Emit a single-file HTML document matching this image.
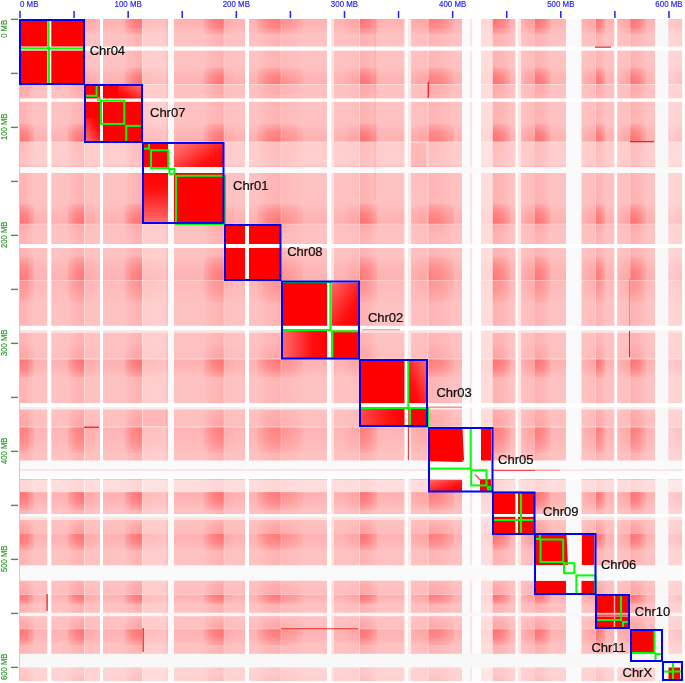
<!DOCTYPE html>
<html><head><meta charset="utf-8"><style>
html,body{margin:0;padding:0;background:#fff;}
text{-webkit-font-smoothing:antialiased;}
svg{will-change:transform;}
svg{display:block;}
.lab{font-family:"Liberation Sans",sans-serif;font-size:13px;fill:#0a0a0a;stroke:#0a0a0a;stroke-width:0.2px;}
.ax{font-family:"Liberation Sans",sans-serif;font-size:7.9px;fill:#1a1aff;stroke:#1a1aff;stroke-width:0.15px;}
.ay{font-family:"Liberation Sans",sans-serif;font-size:7.6px;fill:#2a962a;stroke:#2a962a;stroke-width:0.15px;}
</style></head><body>
<svg width="685" height="683" viewBox="0 0 685 683">
<defs><linearGradient id="hl" x1="0" y1="0" x2="1" y2="0"><stop offset="0" stop-color="#ff0000" stop-opacity="1"/><stop offset="0.5" stop-color="#ff0000" stop-opacity="0.8"/><stop offset="1" stop-color="#ff0000" stop-opacity="0.25"/></linearGradient><linearGradient id="hr" x1="1" y1="0" x2="0" y2="0"><stop offset="0" stop-color="#ff0000" stop-opacity="1"/><stop offset="0.5" stop-color="#ff0000" stop-opacity="0.8"/><stop offset="1" stop-color="#ff0000" stop-opacity="0.25"/></linearGradient><linearGradient id="vt" x1="0" y1="0" x2="0" y2="1"><stop offset="0" stop-color="#fff"/><stop offset="0.5" stop-color="#cccccc"/><stop offset="1" stop-color="#404040"/></linearGradient><linearGradient id="vb" x1="0" y1="1" x2="0" y2="0"><stop offset="0" stop-color="#fff"/><stop offset="0.5" stop-color="#cccccc"/><stop offset="1" stop-color="#404040"/></linearGradient><mask id="mt" maskContentUnits="objectBoundingBox"><rect width="1" height="1" fill="url(#vt)"/></mask><mask id="mb" maskContentUnits="objectBoundingBox"><rect width="1" height="1" fill="url(#vb)"/></mask><linearGradient id="bgl" x1="0" y1="0" x2="1" y2="0"><stop offset="0" stop-color="#ff0000" stop-opacity="1"/><stop offset="0.6" stop-color="#ff0000" stop-opacity="0.6"/><stop offset="1" stop-color="#ff0000" stop-opacity="0"/></linearGradient><linearGradient id="bgr" x1="1" y1="0" x2="0" y2="0"><stop offset="0" stop-color="#ff0000" stop-opacity="1"/><stop offset="0.6" stop-color="#ff0000" stop-opacity="0.6"/><stop offset="1" stop-color="#ff0000" stop-opacity="0"/></linearGradient><linearGradient id="bgt" x1="0" y1="0" x2="0" y2="1"><stop offset="0" stop-color="#ff0000" stop-opacity="1"/><stop offset="0.6" stop-color="#ff0000" stop-opacity="0.6"/><stop offset="1" stop-color="#ff0000" stop-opacity="0"/></linearGradient><linearGradient id="bgb" x1="0" y1="1" x2="0" y2="0"><stop offset="0" stop-color="#ff0000" stop-opacity="1"/><stop offset="0.6" stop-color="#ff0000" stop-opacity="0.6"/><stop offset="1" stop-color="#ff0000" stop-opacity="0"/></linearGradient><linearGradient id="tll" x1="1" y1="0" x2="0" y2="1"><stop offset="0" stop-color="#ff0000"/><stop offset="0.35" stop-color="#ff1010"/><stop offset="1" stop-color="#ff6a6a"/></linearGradient><linearGradient id="tur" x1="0" y1="1" x2="1" y2="0"><stop offset="0" stop-color="#ff0000"/><stop offset="0.35" stop-color="#ff1010"/><stop offset="1" stop-color="#ff6a6a"/></linearGradient><linearGradient id="tx1" x1="1" y1="1" x2="0" y2="0.3"><stop offset="0" stop-color="#ff0000"/><stop offset="0.35" stop-color="#ff1010"/><stop offset="1" stop-color="#ff6a6a"/></linearGradient><linearGradient id="tx2" x1="0.5" y1="0" x2="0.5" y2="1"><stop offset="0" stop-color="#ff0000"/><stop offset="0.35" stop-color="#ff1010"/><stop offset="1" stop-color="#ff6a6a"/></linearGradient><linearGradient id="tx3" x1="1" y1="1" x2="0" y2="0"><stop offset="0" stop-color="#ff0000"/><stop offset="0.35" stop-color="#ff1010"/><stop offset="1" stop-color="#ff6a6a"/></linearGradient><linearGradient id="tx4" x1="1" y1="0.5" x2="0" y2="0.5"><stop offset="0" stop-color="#ff0000"/><stop offset="0.35" stop-color="#ff1010"/><stop offset="1" stop-color="#ff6a6a"/></linearGradient><linearGradient id="tx5" x1="1" y1="0.5" x2="0" y2="0.5"><stop offset="0" stop-color="#ff0000"/><stop offset="0.35" stop-color="#ff1010"/><stop offset="1" stop-color="#ff4a4a"/></linearGradient><linearGradient id="tx6" x1="1" y1="1" x2="0" y2="0"><stop offset="0" stop-color="#ff0000"/><stop offset="0.35" stop-color="#ff1010"/><stop offset="1" stop-color="#ff6a6a"/></linearGradient></defs>
<rect x="19" y="19" width="663" height="662" fill="rgb(255,194,194)"/>
<rect x="19" y="19" width="15" height="662" fill="url(#bgl)" fill-opacity="0.090"/>
<rect x="19" y="19" width="663" height="15" fill="url(#bgt)" fill-opacity="0.090"/>
<rect x="67.5" y="19" width="17" height="662" fill="url(#bgr)" fill-opacity="0.090"/>
<rect x="19" y="67.5" width="663" height="17" fill="url(#bgb)" fill-opacity="0.090"/>
<rect x="84.5" y="19" width="12" height="662" fill="url(#bgl)" fill-opacity="0.013"/>
<rect x="19" y="84.5" width="663" height="12" fill="url(#bgt)" fill-opacity="0.013"/>
<rect x="124.5" y="19" width="18" height="662" fill="url(#bgr)" fill-opacity="0.090"/>
<rect x="19" y="124" width="663" height="18" fill="url(#bgb)" fill-opacity="0.090"/>
<rect x="142.5" y="19" width="20" height="662" fill="url(#bgl)" fill-opacity="0.009"/>
<rect x="19" y="142" width="663" height="20" fill="url(#bgt)" fill-opacity="0.009"/>
<rect x="204" y="19" width="20" height="662" fill="url(#bgr)" fill-opacity="0.090"/>
<rect x="19" y="204" width="663" height="20" fill="url(#bgb)" fill-opacity="0.090"/>
<rect x="224" y="19" width="10" height="662" fill="url(#bgl)" fill-opacity="0.013"/>
<rect x="19" y="224" width="663" height="10" fill="url(#bgt)" fill-opacity="0.013"/>
<rect x="257" y="19" width="24" height="662" fill="url(#bgr)" fill-opacity="0.081"/>
<rect x="19" y="256.5" width="663" height="24" fill="url(#bgb)" fill-opacity="0.081"/>
<rect x="281" y="19" width="22" height="662" fill="url(#bgl)" fill-opacity="0.045"/>
<rect x="19" y="280.5" width="663" height="22" fill="url(#bgt)" fill-opacity="0.045"/>
<rect x="344.5" y="19" width="15" height="662" fill="url(#bgr)" fill-opacity="0.018"/>
<rect x="19" y="344" width="663" height="15" fill="url(#bgb)" fill-opacity="0.018"/>
<rect x="359.5" y="19" width="18" height="662" fill="url(#bgl)" fill-opacity="0.090"/>
<rect x="19" y="359" width="663" height="18" fill="url(#bgt)" fill-opacity="0.090"/>
<rect x="410" y="19" width="18" height="662" fill="url(#bgr)" fill-opacity="0.018"/>
<rect x="19" y="409" width="663" height="18" fill="url(#bgb)" fill-opacity="0.018"/>
<rect x="428" y="19" width="26" height="662" fill="url(#bgl)" fill-opacity="0.076"/>
<rect x="19" y="427" width="663" height="26" fill="url(#bgt)" fill-opacity="0.076"/>
<rect x="492.5" y="19" width="18" height="662" fill="url(#bgl)" fill-opacity="0.090"/>
<rect x="19" y="492" width="663" height="18" fill="url(#bgt)" fill-opacity="0.090"/>
<rect x="522.5" y="19" width="12" height="662" fill="url(#bgr)" fill-opacity="0.027"/>
<rect x="19" y="522" width="663" height="12" fill="url(#bgb)" fill-opacity="0.027"/>
<rect x="534.5" y="19" width="16" height="662" fill="url(#bgl)" fill-opacity="0.090"/>
<rect x="19" y="534" width="663" height="16" fill="url(#bgt)" fill-opacity="0.090"/>
<rect x="583.5" y="19" width="12" height="662" fill="url(#bgr)" fill-opacity="0.018"/>
<rect x="19" y="582.5" width="663" height="12" fill="url(#bgb)" fill-opacity="0.018"/>
<rect x="595.5" y="19" width="10" height="662" fill="url(#bgl)" fill-opacity="0.090"/>
<rect x="19" y="594.5" width="663" height="10" fill="url(#bgt)" fill-opacity="0.090"/>
<rect x="620" y="19" width="10" height="662" fill="url(#bgr)" fill-opacity="0.018"/>
<rect x="19" y="619" width="663" height="10" fill="url(#bgb)" fill-opacity="0.018"/>
<rect x="630" y="19" width="16" height="662" fill="url(#bgl)" fill-opacity="0.090"/>
<rect x="19" y="629" width="663" height="16" fill="url(#bgt)" fill-opacity="0.090"/>
<rect x="662.5" y="19" width="8" height="662" fill="url(#bgl)" fill-opacity="0.027"/>
<rect x="19" y="661.5" width="663" height="8" fill="url(#bgt)" fill-opacity="0.027"/>
<rect x="674" y="19" width="8" height="662" fill="url(#bgr)" fill-opacity="0.018"/>
<rect x="19" y="673" width="663" height="8" fill="url(#bgb)" fill-opacity="0.018"/>
<rect x="143" y="408" width="24" height="18" fill="#ff0000" fill-opacity="0.12"/>
<rect x="408" y="143" width="18" height="24" fill="#ff0000" fill-opacity="0.12"/>
<rect x="19" y="84.5" width="15" height="12" fill="url(#hl)" mask="url(#mt)" fill-opacity="0.048"/>
<rect x="19" y="124" width="15" height="18" fill="url(#hl)" mask="url(#mb)" fill-opacity="0.320"/>
<rect x="67.5" y="84.5" width="17" height="12" fill="url(#hr)" mask="url(#mt)" fill-opacity="0.048"/>
<rect x="67.5" y="124" width="17" height="18" fill="url(#hr)" mask="url(#mb)" fill-opacity="0.320"/>
<rect x="19" y="142" width="15" height="20" fill="url(#hl)" mask="url(#mt)" fill-opacity="0.032"/>
<rect x="19" y="204" width="15" height="20" fill="url(#hl)" mask="url(#mb)" fill-opacity="0.320"/>
<rect x="67.5" y="142" width="17" height="20" fill="url(#hr)" mask="url(#mt)" fill-opacity="0.032"/>
<rect x="67.5" y="204" width="17" height="20" fill="url(#hr)" mask="url(#mb)" fill-opacity="0.320"/>
<rect x="19" y="224" width="15" height="10" fill="url(#hl)" mask="url(#mt)" fill-opacity="0.048"/>
<rect x="19" y="256.5" width="15" height="24" fill="url(#hl)" mask="url(#mb)" fill-opacity="0.288"/>
<rect x="67.5" y="224" width="17" height="10" fill="url(#hr)" mask="url(#mt)" fill-opacity="0.048"/>
<rect x="67.5" y="256.5" width="17" height="24" fill="url(#hr)" mask="url(#mb)" fill-opacity="0.288"/>
<rect x="19" y="280.5" width="15" height="22" fill="url(#hl)" mask="url(#mt)" fill-opacity="0.160"/>
<rect x="19" y="344" width="15" height="15" fill="url(#hl)" mask="url(#mb)" fill-opacity="0.064"/>
<rect x="67.5" y="280.5" width="17" height="22" fill="url(#hr)" mask="url(#mt)" fill-opacity="0.160"/>
<rect x="67.5" y="344" width="17" height="15" fill="url(#hr)" mask="url(#mb)" fill-opacity="0.064"/>
<rect x="19" y="359" width="15" height="18" fill="url(#hl)" mask="url(#mt)" fill-opacity="0.320"/>
<rect x="19" y="409" width="15" height="18" fill="url(#hl)" mask="url(#mb)" fill-opacity="0.064"/>
<rect x="67.5" y="359" width="17" height="18" fill="url(#hr)" mask="url(#mt)" fill-opacity="0.320"/>
<rect x="67.5" y="409" width="17" height="18" fill="url(#hr)" mask="url(#mb)" fill-opacity="0.064"/>
<rect x="19" y="427" width="15" height="26" fill="url(#hl)" mask="url(#mt)" fill-opacity="0.272"/>
<rect x="67.5" y="427" width="17" height="26" fill="url(#hr)" mask="url(#mt)" fill-opacity="0.272"/>
<rect x="19" y="492" width="15" height="18" fill="url(#hl)" mask="url(#mt)" fill-opacity="0.320"/>
<rect x="19" y="522" width="15" height="12" fill="url(#hl)" mask="url(#mb)" fill-opacity="0.096"/>
<rect x="67.5" y="492" width="17" height="18" fill="url(#hr)" mask="url(#mt)" fill-opacity="0.320"/>
<rect x="67.5" y="522" width="17" height="12" fill="url(#hr)" mask="url(#mb)" fill-opacity="0.096"/>
<rect x="19" y="534" width="15" height="16" fill="url(#hl)" mask="url(#mt)" fill-opacity="0.320"/>
<rect x="19" y="582.5" width="15" height="12" fill="url(#hl)" mask="url(#mb)" fill-opacity="0.064"/>
<rect x="67.5" y="534" width="17" height="16" fill="url(#hr)" mask="url(#mt)" fill-opacity="0.320"/>
<rect x="67.5" y="582.5" width="17" height="12" fill="url(#hr)" mask="url(#mb)" fill-opacity="0.064"/>
<rect x="19" y="594.5" width="15" height="10" fill="url(#hl)" mask="url(#mt)" fill-opacity="0.320"/>
<rect x="19" y="619" width="15" height="10" fill="url(#hl)" mask="url(#mb)" fill-opacity="0.064"/>
<rect x="67.5" y="594.5" width="17" height="10" fill="url(#hr)" mask="url(#mt)" fill-opacity="0.320"/>
<rect x="67.5" y="619" width="17" height="10" fill="url(#hr)" mask="url(#mb)" fill-opacity="0.064"/>
<rect x="19" y="629" width="15" height="16" fill="url(#hl)" mask="url(#mt)" fill-opacity="0.320"/>
<rect x="67.5" y="629" width="17" height="16" fill="url(#hr)" mask="url(#mt)" fill-opacity="0.320"/>
<rect x="19" y="661.5" width="15" height="8" fill="url(#hl)" mask="url(#mt)" fill-opacity="0.096"/>
<rect x="19" y="673" width="15" height="8" fill="url(#hl)" mask="url(#mb)" fill-opacity="0.064"/>
<rect x="67.5" y="661.5" width="17" height="8" fill="url(#hr)" mask="url(#mt)" fill-opacity="0.096"/>
<rect x="67.5" y="673" width="17" height="8" fill="url(#hr)" mask="url(#mb)" fill-opacity="0.064"/>
<rect x="84.5" y="19" width="12" height="15" fill="url(#hl)" mask="url(#mt)" fill-opacity="0.048"/>
<rect x="84.5" y="67.5" width="12" height="17" fill="url(#hl)" mask="url(#mb)" fill-opacity="0.048"/>
<rect x="124.5" y="19" width="18" height="15" fill="url(#hr)" mask="url(#mt)" fill-opacity="0.320"/>
<rect x="124.5" y="67.5" width="18" height="17" fill="url(#hr)" mask="url(#mb)" fill-opacity="0.320"/>
<rect x="84.5" y="204" width="12" height="20" fill="url(#hl)" mask="url(#mb)" fill-opacity="0.048"/>
<rect x="124.5" y="142" width="18" height="20" fill="url(#hr)" mask="url(#mt)" fill-opacity="0.032"/>
<rect x="124.5" y="204" width="18" height="20" fill="url(#hr)" mask="url(#mb)" fill-opacity="0.320"/>
<rect x="84.5" y="256.5" width="12" height="24" fill="url(#hl)" mask="url(#mb)" fill-opacity="0.043"/>
<rect x="124.5" y="224" width="18" height="10" fill="url(#hr)" mask="url(#mt)" fill-opacity="0.048"/>
<rect x="124.5" y="256.5" width="18" height="24" fill="url(#hr)" mask="url(#mb)" fill-opacity="0.288"/>
<rect x="84.5" y="280.5" width="12" height="22" fill="url(#hl)" mask="url(#mt)" fill-opacity="0.024"/>
<rect x="124.5" y="280.5" width="18" height="22" fill="url(#hr)" mask="url(#mt)" fill-opacity="0.160"/>
<rect x="124.5" y="344" width="18" height="15" fill="url(#hr)" mask="url(#mb)" fill-opacity="0.064"/>
<rect x="84.5" y="359" width="12" height="18" fill="url(#hl)" mask="url(#mt)" fill-opacity="0.048"/>
<rect x="124.5" y="359" width="18" height="18" fill="url(#hr)" mask="url(#mt)" fill-opacity="0.320"/>
<rect x="124.5" y="409" width="18" height="18" fill="url(#hr)" mask="url(#mb)" fill-opacity="0.064"/>
<rect x="84.5" y="427" width="12" height="26" fill="url(#hl)" mask="url(#mt)" fill-opacity="0.041"/>
<rect x="124.5" y="427" width="18" height="26" fill="url(#hr)" mask="url(#mt)" fill-opacity="0.272"/>
<rect x="84.5" y="492" width="12" height="18" fill="url(#hl)" mask="url(#mt)" fill-opacity="0.048"/>
<rect x="124.5" y="492" width="18" height="18" fill="url(#hr)" mask="url(#mt)" fill-opacity="0.320"/>
<rect x="124.5" y="522" width="18" height="12" fill="url(#hr)" mask="url(#mb)" fill-opacity="0.096"/>
<rect x="84.5" y="534" width="12" height="16" fill="url(#hl)" mask="url(#mt)" fill-opacity="0.048"/>
<rect x="124.5" y="534" width="18" height="16" fill="url(#hr)" mask="url(#mt)" fill-opacity="0.320"/>
<rect x="124.5" y="582.5" width="18" height="12" fill="url(#hr)" mask="url(#mb)" fill-opacity="0.064"/>
<rect x="84.5" y="594.5" width="12" height="10" fill="url(#hl)" mask="url(#mt)" fill-opacity="0.048"/>
<rect x="124.5" y="594.5" width="18" height="10" fill="url(#hr)" mask="url(#mt)" fill-opacity="0.320"/>
<rect x="124.5" y="619" width="18" height="10" fill="url(#hr)" mask="url(#mb)" fill-opacity="0.064"/>
<rect x="84.5" y="629" width="12" height="16" fill="url(#hl)" mask="url(#mt)" fill-opacity="0.048"/>
<rect x="124.5" y="629" width="18" height="16" fill="url(#hr)" mask="url(#mt)" fill-opacity="0.320"/>
<rect x="124.5" y="661.5" width="18" height="8" fill="url(#hr)" mask="url(#mt)" fill-opacity="0.096"/>
<rect x="124.5" y="673" width="18" height="8" fill="url(#hr)" mask="url(#mb)" fill-opacity="0.064"/>
<rect x="142.5" y="19" width="20" height="15" fill="url(#hl)" mask="url(#mt)" fill-opacity="0.032"/>
<rect x="142.5" y="67.5" width="20" height="17" fill="url(#hl)" mask="url(#mb)" fill-opacity="0.032"/>
<rect x="204" y="19" width="20" height="15" fill="url(#hr)" mask="url(#mt)" fill-opacity="0.320"/>
<rect x="204" y="67.5" width="20" height="17" fill="url(#hr)" mask="url(#mb)" fill-opacity="0.320"/>
<rect x="142.5" y="124" width="20" height="18" fill="url(#hl)" mask="url(#mb)" fill-opacity="0.032"/>
<rect x="204" y="84.5" width="20" height="12" fill="url(#hr)" mask="url(#mt)" fill-opacity="0.048"/>
<rect x="204" y="124" width="20" height="18" fill="url(#hr)" mask="url(#mb)" fill-opacity="0.320"/>
<rect x="142.5" y="256.5" width="20" height="24" fill="url(#hl)" mask="url(#mb)" fill-opacity="0.029"/>
<rect x="204" y="224" width="20" height="10" fill="url(#hr)" mask="url(#mt)" fill-opacity="0.048"/>
<rect x="204" y="256.5" width="20" height="24" fill="url(#hr)" mask="url(#mb)" fill-opacity="0.288"/>
<rect x="142.5" y="280.5" width="20" height="22" fill="url(#hl)" mask="url(#mt)" fill-opacity="0.016"/>
<rect x="204" y="280.5" width="20" height="22" fill="url(#hr)" mask="url(#mt)" fill-opacity="0.160"/>
<rect x="204" y="344" width="20" height="15" fill="url(#hr)" mask="url(#mb)" fill-opacity="0.064"/>
<rect x="142.5" y="359" width="20" height="18" fill="url(#hl)" mask="url(#mt)" fill-opacity="0.032"/>
<rect x="204" y="359" width="20" height="18" fill="url(#hr)" mask="url(#mt)" fill-opacity="0.320"/>
<rect x="204" y="409" width="20" height="18" fill="url(#hr)" mask="url(#mb)" fill-opacity="0.064"/>
<rect x="142.5" y="427" width="20" height="26" fill="url(#hl)" mask="url(#mt)" fill-opacity="0.027"/>
<rect x="204" y="427" width="20" height="26" fill="url(#hr)" mask="url(#mt)" fill-opacity="0.272"/>
<rect x="142.5" y="492" width="20" height="18" fill="url(#hl)" mask="url(#mt)" fill-opacity="0.032"/>
<rect x="204" y="492" width="20" height="18" fill="url(#hr)" mask="url(#mt)" fill-opacity="0.320"/>
<rect x="204" y="522" width="20" height="12" fill="url(#hr)" mask="url(#mb)" fill-opacity="0.096"/>
<rect x="142.5" y="534" width="20" height="16" fill="url(#hl)" mask="url(#mt)" fill-opacity="0.032"/>
<rect x="204" y="534" width="20" height="16" fill="url(#hr)" mask="url(#mt)" fill-opacity="0.320"/>
<rect x="204" y="582.5" width="20" height="12" fill="url(#hr)" mask="url(#mb)" fill-opacity="0.064"/>
<rect x="142.5" y="594.5" width="20" height="10" fill="url(#hl)" mask="url(#mt)" fill-opacity="0.032"/>
<rect x="204" y="594.5" width="20" height="10" fill="url(#hr)" mask="url(#mt)" fill-opacity="0.320"/>
<rect x="204" y="619" width="20" height="10" fill="url(#hr)" mask="url(#mb)" fill-opacity="0.064"/>
<rect x="142.5" y="629" width="20" height="16" fill="url(#hl)" mask="url(#mt)" fill-opacity="0.032"/>
<rect x="204" y="629" width="20" height="16" fill="url(#hr)" mask="url(#mt)" fill-opacity="0.320"/>
<rect x="204" y="661.5" width="20" height="8" fill="url(#hr)" mask="url(#mt)" fill-opacity="0.096"/>
<rect x="204" y="673" width="20" height="8" fill="url(#hr)" mask="url(#mb)" fill-opacity="0.064"/>
<rect x="224" y="19" width="10" height="15" fill="url(#hl)" mask="url(#mt)" fill-opacity="0.048"/>
<rect x="224" y="67.5" width="10" height="17" fill="url(#hl)" mask="url(#mb)" fill-opacity="0.048"/>
<rect x="257" y="19" width="24" height="15" fill="url(#hr)" mask="url(#mt)" fill-opacity="0.288"/>
<rect x="257" y="67.5" width="24" height="17" fill="url(#hr)" mask="url(#mb)" fill-opacity="0.288"/>
<rect x="224" y="124" width="10" height="18" fill="url(#hl)" mask="url(#mb)" fill-opacity="0.048"/>
<rect x="257" y="84.5" width="24" height="12" fill="url(#hr)" mask="url(#mt)" fill-opacity="0.043"/>
<rect x="257" y="124" width="24" height="18" fill="url(#hr)" mask="url(#mb)" fill-opacity="0.288"/>
<rect x="224" y="204" width="10" height="20" fill="url(#hl)" mask="url(#mb)" fill-opacity="0.048"/>
<rect x="257" y="142" width="24" height="20" fill="url(#hr)" mask="url(#mt)" fill-opacity="0.029"/>
<rect x="257" y="204" width="24" height="20" fill="url(#hr)" mask="url(#mb)" fill-opacity="0.288"/>
<rect x="224" y="280.5" width="10" height="22" fill="url(#hl)" mask="url(#mt)" fill-opacity="0.024"/>
<rect x="257" y="280.5" width="24" height="22" fill="url(#hr)" mask="url(#mt)" fill-opacity="0.144"/>
<rect x="257" y="344" width="24" height="15" fill="url(#hr)" mask="url(#mb)" fill-opacity="0.058"/>
<rect x="224" y="359" width="10" height="18" fill="url(#hl)" mask="url(#mt)" fill-opacity="0.048"/>
<rect x="257" y="359" width="24" height="18" fill="url(#hr)" mask="url(#mt)" fill-opacity="0.288"/>
<rect x="257" y="409" width="24" height="18" fill="url(#hr)" mask="url(#mb)" fill-opacity="0.058"/>
<rect x="224" y="427" width="10" height="26" fill="url(#hl)" mask="url(#mt)" fill-opacity="0.041"/>
<rect x="257" y="427" width="24" height="26" fill="url(#hr)" mask="url(#mt)" fill-opacity="0.245"/>
<rect x="224" y="492" width="10" height="18" fill="url(#hl)" mask="url(#mt)" fill-opacity="0.048"/>
<rect x="257" y="492" width="24" height="18" fill="url(#hr)" mask="url(#mt)" fill-opacity="0.288"/>
<rect x="257" y="522" width="24" height="12" fill="url(#hr)" mask="url(#mb)" fill-opacity="0.086"/>
<rect x="224" y="534" width="10" height="16" fill="url(#hl)" mask="url(#mt)" fill-opacity="0.048"/>
<rect x="257" y="534" width="24" height="16" fill="url(#hr)" mask="url(#mt)" fill-opacity="0.288"/>
<rect x="257" y="582.5" width="24" height="12" fill="url(#hr)" mask="url(#mb)" fill-opacity="0.058"/>
<rect x="224" y="594.5" width="10" height="10" fill="url(#hl)" mask="url(#mt)" fill-opacity="0.048"/>
<rect x="257" y="594.5" width="24" height="10" fill="url(#hr)" mask="url(#mt)" fill-opacity="0.288"/>
<rect x="257" y="619" width="24" height="10" fill="url(#hr)" mask="url(#mb)" fill-opacity="0.058"/>
<rect x="224" y="629" width="10" height="16" fill="url(#hl)" mask="url(#mt)" fill-opacity="0.048"/>
<rect x="257" y="629" width="24" height="16" fill="url(#hr)" mask="url(#mt)" fill-opacity="0.288"/>
<rect x="257" y="661.5" width="24" height="8" fill="url(#hr)" mask="url(#mt)" fill-opacity="0.086"/>
<rect x="257" y="673" width="24" height="8" fill="url(#hr)" mask="url(#mb)" fill-opacity="0.058"/>
<rect x="281" y="19" width="22" height="15" fill="url(#hl)" mask="url(#mt)" fill-opacity="0.160"/>
<rect x="281" y="67.5" width="22" height="17" fill="url(#hl)" mask="url(#mb)" fill-opacity="0.160"/>
<rect x="344.5" y="19" width="15" height="15" fill="url(#hr)" mask="url(#mt)" fill-opacity="0.064"/>
<rect x="344.5" y="67.5" width="15" height="17" fill="url(#hr)" mask="url(#mb)" fill-opacity="0.064"/>
<rect x="281" y="84.5" width="22" height="12" fill="url(#hl)" mask="url(#mt)" fill-opacity="0.024"/>
<rect x="281" y="124" width="22" height="18" fill="url(#hl)" mask="url(#mb)" fill-opacity="0.160"/>
<rect x="344.5" y="124" width="15" height="18" fill="url(#hr)" mask="url(#mb)" fill-opacity="0.064"/>
<rect x="281" y="142" width="22" height="20" fill="url(#hl)" mask="url(#mt)" fill-opacity="0.016"/>
<rect x="281" y="204" width="22" height="20" fill="url(#hl)" mask="url(#mb)" fill-opacity="0.160"/>
<rect x="344.5" y="204" width="15" height="20" fill="url(#hr)" mask="url(#mb)" fill-opacity="0.064"/>
<rect x="281" y="224" width="22" height="10" fill="url(#hl)" mask="url(#mt)" fill-opacity="0.024"/>
<rect x="281" y="256.5" width="22" height="24" fill="url(#hl)" mask="url(#mb)" fill-opacity="0.144"/>
<rect x="344.5" y="256.5" width="15" height="24" fill="url(#hr)" mask="url(#mb)" fill-opacity="0.058"/>
<rect x="281" y="359" width="22" height="18" fill="url(#hl)" mask="url(#mt)" fill-opacity="0.160"/>
<rect x="281" y="409" width="22" height="18" fill="url(#hl)" mask="url(#mb)" fill-opacity="0.032"/>
<rect x="344.5" y="359" width="15" height="18" fill="url(#hr)" mask="url(#mt)" fill-opacity="0.064"/>
<rect x="281" y="427" width="22" height="26" fill="url(#hl)" mask="url(#mt)" fill-opacity="0.136"/>
<rect x="344.5" y="427" width="15" height="26" fill="url(#hr)" mask="url(#mt)" fill-opacity="0.054"/>
<rect x="281" y="492" width="22" height="18" fill="url(#hl)" mask="url(#mt)" fill-opacity="0.160"/>
<rect x="281" y="522" width="22" height="12" fill="url(#hl)" mask="url(#mb)" fill-opacity="0.048"/>
<rect x="344.5" y="492" width="15" height="18" fill="url(#hr)" mask="url(#mt)" fill-opacity="0.064"/>
<rect x="344.5" y="522" width="15" height="12" fill="url(#hr)" mask="url(#mb)" fill-opacity="0.019"/>
<rect x="281" y="534" width="22" height="16" fill="url(#hl)" mask="url(#mt)" fill-opacity="0.160"/>
<rect x="281" y="582.5" width="22" height="12" fill="url(#hl)" mask="url(#mb)" fill-opacity="0.032"/>
<rect x="344.5" y="534" width="15" height="16" fill="url(#hr)" mask="url(#mt)" fill-opacity="0.064"/>
<rect x="281" y="594.5" width="22" height="10" fill="url(#hl)" mask="url(#mt)" fill-opacity="0.160"/>
<rect x="281" y="619" width="22" height="10" fill="url(#hl)" mask="url(#mb)" fill-opacity="0.032"/>
<rect x="344.5" y="594.5" width="15" height="10" fill="url(#hr)" mask="url(#mt)" fill-opacity="0.064"/>
<rect x="281" y="629" width="22" height="16" fill="url(#hl)" mask="url(#mt)" fill-opacity="0.160"/>
<rect x="344.5" y="629" width="15" height="16" fill="url(#hr)" mask="url(#mt)" fill-opacity="0.064"/>
<rect x="281" y="661.5" width="22" height="8" fill="url(#hl)" mask="url(#mt)" fill-opacity="0.048"/>
<rect x="281" y="673" width="22" height="8" fill="url(#hl)" mask="url(#mb)" fill-opacity="0.032"/>
<rect x="344.5" y="661.5" width="15" height="8" fill="url(#hr)" mask="url(#mt)" fill-opacity="0.019"/>
<rect x="359.5" y="19" width="18" height="15" fill="url(#hl)" mask="url(#mt)" fill-opacity="0.320"/>
<rect x="359.5" y="67.5" width="18" height="17" fill="url(#hl)" mask="url(#mb)" fill-opacity="0.320"/>
<rect x="410" y="19" width="18" height="15" fill="url(#hr)" mask="url(#mt)" fill-opacity="0.064"/>
<rect x="410" y="67.5" width="18" height="17" fill="url(#hr)" mask="url(#mb)" fill-opacity="0.064"/>
<rect x="359.5" y="84.5" width="18" height="12" fill="url(#hl)" mask="url(#mt)" fill-opacity="0.048"/>
<rect x="359.5" y="124" width="18" height="18" fill="url(#hl)" mask="url(#mb)" fill-opacity="0.320"/>
<rect x="410" y="124" width="18" height="18" fill="url(#hr)" mask="url(#mb)" fill-opacity="0.064"/>
<rect x="359.5" y="142" width="18" height="20" fill="url(#hl)" mask="url(#mt)" fill-opacity="0.032"/>
<rect x="359.5" y="204" width="18" height="20" fill="url(#hl)" mask="url(#mb)" fill-opacity="0.320"/>
<rect x="410" y="204" width="18" height="20" fill="url(#hr)" mask="url(#mb)" fill-opacity="0.064"/>
<rect x="359.5" y="224" width="18" height="10" fill="url(#hl)" mask="url(#mt)" fill-opacity="0.048"/>
<rect x="359.5" y="256.5" width="18" height="24" fill="url(#hl)" mask="url(#mb)" fill-opacity="0.288"/>
<rect x="410" y="256.5" width="18" height="24" fill="url(#hr)" mask="url(#mb)" fill-opacity="0.058"/>
<rect x="359.5" y="280.5" width="18" height="22" fill="url(#hl)" mask="url(#mt)" fill-opacity="0.160"/>
<rect x="359.5" y="344" width="18" height="15" fill="url(#hl)" mask="url(#mb)" fill-opacity="0.064"/>
<rect x="410" y="280.5" width="18" height="22" fill="url(#hr)" mask="url(#mt)" fill-opacity="0.032"/>
<rect x="359.5" y="427" width="18" height="26" fill="url(#hl)" mask="url(#mt)" fill-opacity="0.272"/>
<rect x="410" y="427" width="18" height="26" fill="url(#hr)" mask="url(#mt)" fill-opacity="0.054"/>
<rect x="359.5" y="492" width="18" height="18" fill="url(#hl)" mask="url(#mt)" fill-opacity="0.320"/>
<rect x="359.5" y="522" width="18" height="12" fill="url(#hl)" mask="url(#mb)" fill-opacity="0.096"/>
<rect x="410" y="492" width="18" height="18" fill="url(#hr)" mask="url(#mt)" fill-opacity="0.064"/>
<rect x="410" y="522" width="18" height="12" fill="url(#hr)" mask="url(#mb)" fill-opacity="0.019"/>
<rect x="359.5" y="534" width="18" height="16" fill="url(#hl)" mask="url(#mt)" fill-opacity="0.320"/>
<rect x="359.5" y="582.5" width="18" height="12" fill="url(#hl)" mask="url(#mb)" fill-opacity="0.064"/>
<rect x="410" y="534" width="18" height="16" fill="url(#hr)" mask="url(#mt)" fill-opacity="0.064"/>
<rect x="359.5" y="594.5" width="18" height="10" fill="url(#hl)" mask="url(#mt)" fill-opacity="0.320"/>
<rect x="359.5" y="619" width="18" height="10" fill="url(#hl)" mask="url(#mb)" fill-opacity="0.064"/>
<rect x="410" y="594.5" width="18" height="10" fill="url(#hr)" mask="url(#mt)" fill-opacity="0.064"/>
<rect x="359.5" y="629" width="18" height="16" fill="url(#hl)" mask="url(#mt)" fill-opacity="0.320"/>
<rect x="410" y="629" width="18" height="16" fill="url(#hr)" mask="url(#mt)" fill-opacity="0.064"/>
<rect x="359.5" y="661.5" width="18" height="8" fill="url(#hl)" mask="url(#mt)" fill-opacity="0.096"/>
<rect x="359.5" y="673" width="18" height="8" fill="url(#hl)" mask="url(#mb)" fill-opacity="0.064"/>
<rect x="410" y="661.5" width="18" height="8" fill="url(#hr)" mask="url(#mt)" fill-opacity="0.019"/>
<rect x="428" y="19" width="26" height="15" fill="url(#hl)" mask="url(#mt)" fill-opacity="0.272"/>
<rect x="428" y="67.5" width="26" height="17" fill="url(#hl)" mask="url(#mb)" fill-opacity="0.272"/>
<rect x="428" y="84.5" width="26" height="12" fill="url(#hl)" mask="url(#mt)" fill-opacity="0.041"/>
<rect x="428" y="124" width="26" height="18" fill="url(#hl)" mask="url(#mb)" fill-opacity="0.272"/>
<rect x="428" y="142" width="26" height="20" fill="url(#hl)" mask="url(#mt)" fill-opacity="0.027"/>
<rect x="428" y="204" width="26" height="20" fill="url(#hl)" mask="url(#mb)" fill-opacity="0.272"/>
<rect x="428" y="224" width="26" height="10" fill="url(#hl)" mask="url(#mt)" fill-opacity="0.041"/>
<rect x="428" y="256.5" width="26" height="24" fill="url(#hl)" mask="url(#mb)" fill-opacity="0.245"/>
<rect x="428" y="280.5" width="26" height="22" fill="url(#hl)" mask="url(#mt)" fill-opacity="0.136"/>
<rect x="428" y="344" width="26" height="15" fill="url(#hl)" mask="url(#mb)" fill-opacity="0.054"/>
<rect x="428" y="359" width="26" height="18" fill="url(#hl)" mask="url(#mt)" fill-opacity="0.272"/>
<rect x="428" y="409" width="26" height="18" fill="url(#hl)" mask="url(#mb)" fill-opacity="0.054"/>
<rect x="428" y="492" width="26" height="18" fill="url(#hl)" mask="url(#mt)" fill-opacity="0.272"/>
<rect x="428" y="522" width="26" height="12" fill="url(#hl)" mask="url(#mb)" fill-opacity="0.082"/>
<rect x="428" y="534" width="26" height="16" fill="url(#hl)" mask="url(#mt)" fill-opacity="0.272"/>
<rect x="428" y="582.5" width="26" height="12" fill="url(#hl)" mask="url(#mb)" fill-opacity="0.054"/>
<rect x="428" y="594.5" width="26" height="10" fill="url(#hl)" mask="url(#mt)" fill-opacity="0.272"/>
<rect x="428" y="619" width="26" height="10" fill="url(#hl)" mask="url(#mb)" fill-opacity="0.054"/>
<rect x="428" y="629" width="26" height="16" fill="url(#hl)" mask="url(#mt)" fill-opacity="0.272"/>
<rect x="428" y="661.5" width="26" height="8" fill="url(#hl)" mask="url(#mt)" fill-opacity="0.082"/>
<rect x="428" y="673" width="26" height="8" fill="url(#hl)" mask="url(#mb)" fill-opacity="0.054"/>
<rect x="492.5" y="19" width="18" height="15" fill="url(#hl)" mask="url(#mt)" fill-opacity="0.320"/>
<rect x="492.5" y="67.5" width="18" height="17" fill="url(#hl)" mask="url(#mb)" fill-opacity="0.320"/>
<rect x="522.5" y="19" width="12" height="15" fill="url(#hr)" mask="url(#mt)" fill-opacity="0.096"/>
<rect x="522.5" y="67.5" width="12" height="17" fill="url(#hr)" mask="url(#mb)" fill-opacity="0.096"/>
<rect x="492.5" y="84.5" width="18" height="12" fill="url(#hl)" mask="url(#mt)" fill-opacity="0.048"/>
<rect x="492.5" y="124" width="18" height="18" fill="url(#hl)" mask="url(#mb)" fill-opacity="0.320"/>
<rect x="522.5" y="124" width="12" height="18" fill="url(#hr)" mask="url(#mb)" fill-opacity="0.096"/>
<rect x="492.5" y="142" width="18" height="20" fill="url(#hl)" mask="url(#mt)" fill-opacity="0.032"/>
<rect x="492.5" y="204" width="18" height="20" fill="url(#hl)" mask="url(#mb)" fill-opacity="0.320"/>
<rect x="522.5" y="204" width="12" height="20" fill="url(#hr)" mask="url(#mb)" fill-opacity="0.096"/>
<rect x="492.5" y="224" width="18" height="10" fill="url(#hl)" mask="url(#mt)" fill-opacity="0.048"/>
<rect x="492.5" y="256.5" width="18" height="24" fill="url(#hl)" mask="url(#mb)" fill-opacity="0.288"/>
<rect x="522.5" y="256.5" width="12" height="24" fill="url(#hr)" mask="url(#mb)" fill-opacity="0.086"/>
<rect x="492.5" y="280.5" width="18" height="22" fill="url(#hl)" mask="url(#mt)" fill-opacity="0.160"/>
<rect x="492.5" y="344" width="18" height="15" fill="url(#hl)" mask="url(#mb)" fill-opacity="0.064"/>
<rect x="522.5" y="280.5" width="12" height="22" fill="url(#hr)" mask="url(#mt)" fill-opacity="0.048"/>
<rect x="522.5" y="344" width="12" height="15" fill="url(#hr)" mask="url(#mb)" fill-opacity="0.019"/>
<rect x="492.5" y="359" width="18" height="18" fill="url(#hl)" mask="url(#mt)" fill-opacity="0.320"/>
<rect x="492.5" y="409" width="18" height="18" fill="url(#hl)" mask="url(#mb)" fill-opacity="0.064"/>
<rect x="522.5" y="359" width="12" height="18" fill="url(#hr)" mask="url(#mt)" fill-opacity="0.096"/>
<rect x="522.5" y="409" width="12" height="18" fill="url(#hr)" mask="url(#mb)" fill-opacity="0.019"/>
<rect x="492.5" y="427" width="18" height="26" fill="url(#hl)" mask="url(#mt)" fill-opacity="0.272"/>
<rect x="522.5" y="427" width="12" height="26" fill="url(#hr)" mask="url(#mt)" fill-opacity="0.082"/>
<rect x="492.5" y="534" width="18" height="16" fill="url(#hl)" mask="url(#mt)" fill-opacity="0.320"/>
<rect x="492.5" y="582.5" width="18" height="12" fill="url(#hl)" mask="url(#mb)" fill-opacity="0.064"/>
<rect x="522.5" y="534" width="12" height="16" fill="url(#hr)" mask="url(#mt)" fill-opacity="0.096"/>
<rect x="522.5" y="582.5" width="12" height="12" fill="url(#hr)" mask="url(#mb)" fill-opacity="0.019"/>
<rect x="492.5" y="594.5" width="18" height="10" fill="url(#hl)" mask="url(#mt)" fill-opacity="0.320"/>
<rect x="492.5" y="619" width="18" height="10" fill="url(#hl)" mask="url(#mb)" fill-opacity="0.064"/>
<rect x="522.5" y="594.5" width="12" height="10" fill="url(#hr)" mask="url(#mt)" fill-opacity="0.096"/>
<rect x="522.5" y="619" width="12" height="10" fill="url(#hr)" mask="url(#mb)" fill-opacity="0.019"/>
<rect x="492.5" y="629" width="18" height="16" fill="url(#hl)" mask="url(#mt)" fill-opacity="0.320"/>
<rect x="522.5" y="629" width="12" height="16" fill="url(#hr)" mask="url(#mt)" fill-opacity="0.096"/>
<rect x="492.5" y="661.5" width="18" height="8" fill="url(#hl)" mask="url(#mt)" fill-opacity="0.096"/>
<rect x="492.5" y="673" width="18" height="8" fill="url(#hl)" mask="url(#mb)" fill-opacity="0.064"/>
<rect x="522.5" y="661.5" width="12" height="8" fill="url(#hr)" mask="url(#mt)" fill-opacity="0.029"/>
<rect x="522.5" y="673" width="12" height="8" fill="url(#hr)" mask="url(#mb)" fill-opacity="0.019"/>
<rect x="534.5" y="19" width="16" height="15" fill="url(#hl)" mask="url(#mt)" fill-opacity="0.320"/>
<rect x="534.5" y="67.5" width="16" height="17" fill="url(#hl)" mask="url(#mb)" fill-opacity="0.320"/>
<rect x="583.5" y="19" width="12" height="15" fill="url(#hr)" mask="url(#mt)" fill-opacity="0.064"/>
<rect x="583.5" y="67.5" width="12" height="17" fill="url(#hr)" mask="url(#mb)" fill-opacity="0.064"/>
<rect x="534.5" y="84.5" width="16" height="12" fill="url(#hl)" mask="url(#mt)" fill-opacity="0.048"/>
<rect x="534.5" y="124" width="16" height="18" fill="url(#hl)" mask="url(#mb)" fill-opacity="0.320"/>
<rect x="583.5" y="124" width="12" height="18" fill="url(#hr)" mask="url(#mb)" fill-opacity="0.064"/>
<rect x="534.5" y="142" width="16" height="20" fill="url(#hl)" mask="url(#mt)" fill-opacity="0.032"/>
<rect x="534.5" y="204" width="16" height="20" fill="url(#hl)" mask="url(#mb)" fill-opacity="0.320"/>
<rect x="583.5" y="204" width="12" height="20" fill="url(#hr)" mask="url(#mb)" fill-opacity="0.064"/>
<rect x="534.5" y="224" width="16" height="10" fill="url(#hl)" mask="url(#mt)" fill-opacity="0.048"/>
<rect x="534.5" y="256.5" width="16" height="24" fill="url(#hl)" mask="url(#mb)" fill-opacity="0.288"/>
<rect x="583.5" y="256.5" width="12" height="24" fill="url(#hr)" mask="url(#mb)" fill-opacity="0.058"/>
<rect x="534.5" y="280.5" width="16" height="22" fill="url(#hl)" mask="url(#mt)" fill-opacity="0.160"/>
<rect x="534.5" y="344" width="16" height="15" fill="url(#hl)" mask="url(#mb)" fill-opacity="0.064"/>
<rect x="583.5" y="280.5" width="12" height="22" fill="url(#hr)" mask="url(#mt)" fill-opacity="0.032"/>
<rect x="534.5" y="359" width="16" height="18" fill="url(#hl)" mask="url(#mt)" fill-opacity="0.320"/>
<rect x="534.5" y="409" width="16" height="18" fill="url(#hl)" mask="url(#mb)" fill-opacity="0.064"/>
<rect x="583.5" y="359" width="12" height="18" fill="url(#hr)" mask="url(#mt)" fill-opacity="0.064"/>
<rect x="534.5" y="427" width="16" height="26" fill="url(#hl)" mask="url(#mt)" fill-opacity="0.272"/>
<rect x="583.5" y="427" width="12" height="26" fill="url(#hr)" mask="url(#mt)" fill-opacity="0.054"/>
<rect x="534.5" y="492" width="16" height="18" fill="url(#hl)" mask="url(#mt)" fill-opacity="0.320"/>
<rect x="534.5" y="522" width="16" height="12" fill="url(#hl)" mask="url(#mb)" fill-opacity="0.096"/>
<rect x="583.5" y="492" width="12" height="18" fill="url(#hr)" mask="url(#mt)" fill-opacity="0.064"/>
<rect x="583.5" y="522" width="12" height="12" fill="url(#hr)" mask="url(#mb)" fill-opacity="0.019"/>
<rect x="534.5" y="594.5" width="16" height="10" fill="url(#hl)" mask="url(#mt)" fill-opacity="0.320"/>
<rect x="534.5" y="619" width="16" height="10" fill="url(#hl)" mask="url(#mb)" fill-opacity="0.064"/>
<rect x="583.5" y="594.5" width="12" height="10" fill="url(#hr)" mask="url(#mt)" fill-opacity="0.064"/>
<rect x="534.5" y="629" width="16" height="16" fill="url(#hl)" mask="url(#mt)" fill-opacity="0.320"/>
<rect x="583.5" y="629" width="12" height="16" fill="url(#hr)" mask="url(#mt)" fill-opacity="0.064"/>
<rect x="534.5" y="661.5" width="16" height="8" fill="url(#hl)" mask="url(#mt)" fill-opacity="0.096"/>
<rect x="534.5" y="673" width="16" height="8" fill="url(#hl)" mask="url(#mb)" fill-opacity="0.064"/>
<rect x="583.5" y="661.5" width="12" height="8" fill="url(#hr)" mask="url(#mt)" fill-opacity="0.019"/>
<rect x="595.5" y="19" width="10" height="15" fill="url(#hl)" mask="url(#mt)" fill-opacity="0.320"/>
<rect x="595.5" y="67.5" width="10" height="17" fill="url(#hl)" mask="url(#mb)" fill-opacity="0.320"/>
<rect x="620" y="19" width="10" height="15" fill="url(#hr)" mask="url(#mt)" fill-opacity="0.064"/>
<rect x="620" y="67.5" width="10" height="17" fill="url(#hr)" mask="url(#mb)" fill-opacity="0.064"/>
<rect x="595.5" y="84.5" width="10" height="12" fill="url(#hl)" mask="url(#mt)" fill-opacity="0.048"/>
<rect x="595.5" y="124" width="10" height="18" fill="url(#hl)" mask="url(#mb)" fill-opacity="0.320"/>
<rect x="620" y="124" width="10" height="18" fill="url(#hr)" mask="url(#mb)" fill-opacity="0.064"/>
<rect x="595.5" y="142" width="10" height="20" fill="url(#hl)" mask="url(#mt)" fill-opacity="0.032"/>
<rect x="595.5" y="204" width="10" height="20" fill="url(#hl)" mask="url(#mb)" fill-opacity="0.320"/>
<rect x="620" y="204" width="10" height="20" fill="url(#hr)" mask="url(#mb)" fill-opacity="0.064"/>
<rect x="595.5" y="224" width="10" height="10" fill="url(#hl)" mask="url(#mt)" fill-opacity="0.048"/>
<rect x="595.5" y="256.5" width="10" height="24" fill="url(#hl)" mask="url(#mb)" fill-opacity="0.288"/>
<rect x="620" y="256.5" width="10" height="24" fill="url(#hr)" mask="url(#mb)" fill-opacity="0.058"/>
<rect x="595.5" y="280.5" width="10" height="22" fill="url(#hl)" mask="url(#mt)" fill-opacity="0.160"/>
<rect x="595.5" y="344" width="10" height="15" fill="url(#hl)" mask="url(#mb)" fill-opacity="0.064"/>
<rect x="620" y="280.5" width="10" height="22" fill="url(#hr)" mask="url(#mt)" fill-opacity="0.032"/>
<rect x="595.5" y="359" width="10" height="18" fill="url(#hl)" mask="url(#mt)" fill-opacity="0.320"/>
<rect x="595.5" y="409" width="10" height="18" fill="url(#hl)" mask="url(#mb)" fill-opacity="0.064"/>
<rect x="620" y="359" width="10" height="18" fill="url(#hr)" mask="url(#mt)" fill-opacity="0.064"/>
<rect x="595.5" y="427" width="10" height="26" fill="url(#hl)" mask="url(#mt)" fill-opacity="0.272"/>
<rect x="620" y="427" width="10" height="26" fill="url(#hr)" mask="url(#mt)" fill-opacity="0.054"/>
<rect x="595.5" y="492" width="10" height="18" fill="url(#hl)" mask="url(#mt)" fill-opacity="0.320"/>
<rect x="595.5" y="522" width="10" height="12" fill="url(#hl)" mask="url(#mb)" fill-opacity="0.096"/>
<rect x="620" y="492" width="10" height="18" fill="url(#hr)" mask="url(#mt)" fill-opacity="0.064"/>
<rect x="620" y="522" width="10" height="12" fill="url(#hr)" mask="url(#mb)" fill-opacity="0.019"/>
<rect x="595.5" y="534" width="10" height="16" fill="url(#hl)" mask="url(#mt)" fill-opacity="0.320"/>
<rect x="595.5" y="582.5" width="10" height="12" fill="url(#hl)" mask="url(#mb)" fill-opacity="0.064"/>
<rect x="620" y="534" width="10" height="16" fill="url(#hr)" mask="url(#mt)" fill-opacity="0.064"/>
<rect x="595.5" y="629" width="10" height="16" fill="url(#hl)" mask="url(#mt)" fill-opacity="0.320"/>
<rect x="620" y="629" width="10" height="16" fill="url(#hr)" mask="url(#mt)" fill-opacity="0.064"/>
<rect x="595.5" y="661.5" width="10" height="8" fill="url(#hl)" mask="url(#mt)" fill-opacity="0.096"/>
<rect x="595.5" y="673" width="10" height="8" fill="url(#hl)" mask="url(#mb)" fill-opacity="0.064"/>
<rect x="620" y="661.5" width="10" height="8" fill="url(#hr)" mask="url(#mt)" fill-opacity="0.019"/>
<rect x="630" y="19" width="16" height="15" fill="url(#hl)" mask="url(#mt)" fill-opacity="0.320"/>
<rect x="630" y="67.5" width="16" height="17" fill="url(#hl)" mask="url(#mb)" fill-opacity="0.320"/>
<rect x="630" y="84.5" width="16" height="12" fill="url(#hl)" mask="url(#mt)" fill-opacity="0.048"/>
<rect x="630" y="124" width="16" height="18" fill="url(#hl)" mask="url(#mb)" fill-opacity="0.320"/>
<rect x="630" y="142" width="16" height="20" fill="url(#hl)" mask="url(#mt)" fill-opacity="0.032"/>
<rect x="630" y="204" width="16" height="20" fill="url(#hl)" mask="url(#mb)" fill-opacity="0.320"/>
<rect x="630" y="224" width="16" height="10" fill="url(#hl)" mask="url(#mt)" fill-opacity="0.048"/>
<rect x="630" y="256.5" width="16" height="24" fill="url(#hl)" mask="url(#mb)" fill-opacity="0.288"/>
<rect x="630" y="280.5" width="16" height="22" fill="url(#hl)" mask="url(#mt)" fill-opacity="0.160"/>
<rect x="630" y="344" width="16" height="15" fill="url(#hl)" mask="url(#mb)" fill-opacity="0.064"/>
<rect x="630" y="359" width="16" height="18" fill="url(#hl)" mask="url(#mt)" fill-opacity="0.320"/>
<rect x="630" y="409" width="16" height="18" fill="url(#hl)" mask="url(#mb)" fill-opacity="0.064"/>
<rect x="630" y="427" width="16" height="26" fill="url(#hl)" mask="url(#mt)" fill-opacity="0.272"/>
<rect x="630" y="492" width="16" height="18" fill="url(#hl)" mask="url(#mt)" fill-opacity="0.320"/>
<rect x="630" y="522" width="16" height="12" fill="url(#hl)" mask="url(#mb)" fill-opacity="0.096"/>
<rect x="630" y="534" width="16" height="16" fill="url(#hl)" mask="url(#mt)" fill-opacity="0.320"/>
<rect x="630" y="582.5" width="16" height="12" fill="url(#hl)" mask="url(#mb)" fill-opacity="0.064"/>
<rect x="630" y="594.5" width="16" height="10" fill="url(#hl)" mask="url(#mt)" fill-opacity="0.320"/>
<rect x="630" y="619" width="16" height="10" fill="url(#hl)" mask="url(#mb)" fill-opacity="0.064"/>
<rect x="630" y="661.5" width="16" height="8" fill="url(#hl)" mask="url(#mt)" fill-opacity="0.096"/>
<rect x="630" y="673" width="16" height="8" fill="url(#hl)" mask="url(#mb)" fill-opacity="0.064"/>
<rect x="662.5" y="19" width="8" height="15" fill="url(#hl)" mask="url(#mt)" fill-opacity="0.096"/>
<rect x="662.5" y="67.5" width="8" height="17" fill="url(#hl)" mask="url(#mb)" fill-opacity="0.096"/>
<rect x="674" y="19" width="8" height="15" fill="url(#hr)" mask="url(#mt)" fill-opacity="0.064"/>
<rect x="674" y="67.5" width="8" height="17" fill="url(#hr)" mask="url(#mb)" fill-opacity="0.064"/>
<rect x="662.5" y="124" width="8" height="18" fill="url(#hl)" mask="url(#mb)" fill-opacity="0.096"/>
<rect x="674" y="124" width="8" height="18" fill="url(#hr)" mask="url(#mb)" fill-opacity="0.064"/>
<rect x="662.5" y="204" width="8" height="20" fill="url(#hl)" mask="url(#mb)" fill-opacity="0.096"/>
<rect x="674" y="204" width="8" height="20" fill="url(#hr)" mask="url(#mb)" fill-opacity="0.064"/>
<rect x="662.5" y="256.5" width="8" height="24" fill="url(#hl)" mask="url(#mb)" fill-opacity="0.086"/>
<rect x="674" y="256.5" width="8" height="24" fill="url(#hr)" mask="url(#mb)" fill-opacity="0.058"/>
<rect x="662.5" y="280.5" width="8" height="22" fill="url(#hl)" mask="url(#mt)" fill-opacity="0.048"/>
<rect x="662.5" y="344" width="8" height="15" fill="url(#hl)" mask="url(#mb)" fill-opacity="0.019"/>
<rect x="674" y="280.5" width="8" height="22" fill="url(#hr)" mask="url(#mt)" fill-opacity="0.032"/>
<rect x="662.5" y="359" width="8" height="18" fill="url(#hl)" mask="url(#mt)" fill-opacity="0.096"/>
<rect x="662.5" y="409" width="8" height="18" fill="url(#hl)" mask="url(#mb)" fill-opacity="0.019"/>
<rect x="674" y="359" width="8" height="18" fill="url(#hr)" mask="url(#mt)" fill-opacity="0.064"/>
<rect x="662.5" y="427" width="8" height="26" fill="url(#hl)" mask="url(#mt)" fill-opacity="0.082"/>
<rect x="674" y="427" width="8" height="26" fill="url(#hr)" mask="url(#mt)" fill-opacity="0.054"/>
<rect x="662.5" y="492" width="8" height="18" fill="url(#hl)" mask="url(#mt)" fill-opacity="0.096"/>
<rect x="662.5" y="522" width="8" height="12" fill="url(#hl)" mask="url(#mb)" fill-opacity="0.029"/>
<rect x="674" y="492" width="8" height="18" fill="url(#hr)" mask="url(#mt)" fill-opacity="0.064"/>
<rect x="674" y="522" width="8" height="12" fill="url(#hr)" mask="url(#mb)" fill-opacity="0.019"/>
<rect x="662.5" y="534" width="8" height="16" fill="url(#hl)" mask="url(#mt)" fill-opacity="0.096"/>
<rect x="662.5" y="582.5" width="8" height="12" fill="url(#hl)" mask="url(#mb)" fill-opacity="0.019"/>
<rect x="674" y="534" width="8" height="16" fill="url(#hr)" mask="url(#mt)" fill-opacity="0.064"/>
<rect x="662.5" y="594.5" width="8" height="10" fill="url(#hl)" mask="url(#mt)" fill-opacity="0.096"/>
<rect x="662.5" y="619" width="8" height="10" fill="url(#hl)" mask="url(#mb)" fill-opacity="0.019"/>
<rect x="674" y="594.5" width="8" height="10" fill="url(#hr)" mask="url(#mt)" fill-opacity="0.064"/>
<rect x="662.5" y="629" width="8" height="16" fill="url(#hl)" mask="url(#mt)" fill-opacity="0.096"/>
<rect x="674" y="629" width="8" height="16" fill="url(#hr)" mask="url(#mt)" fill-opacity="0.064"/>
<rect x="481" y="19" width="11.5" height="662" fill="rgba(255,255,255,0.45)"/>
<rect x="668.5" y="19" width="13.5" height="662" fill="rgba(255,255,255,0.3)"/>
<rect x="19" y="480" width="663" height="12" fill="rgba(255,255,255,0.45)"/>
<rect x="19" y="667" width="663" height="14" fill="rgba(255,255,255,0.3)"/>
<rect x="143" y="19" width="23" height="662" fill="rgba(255,255,255,0.2)"/>
<rect x="19" y="142.5" width="663" height="23" fill="rgba(255,255,255,0.2)"/>
<rect x="84" y="19" width="1" height="662" fill="rgba(255,255,255,0.5)"/>
<rect x="19" y="84" width="663" height="1" fill="rgba(255,255,255,0.5)"/>
<rect x="142" y="19" width="1" height="662" fill="rgba(255,255,255,0.5)"/>
<rect x="19" y="141.5" width="663" height="1" fill="rgba(255,255,255,0.5)"/>
<rect x="223.5" y="19" width="1" height="662" fill="rgba(255,255,255,0.3)"/>
<rect x="19" y="223.5" width="663" height="1" fill="rgba(255,255,255,0.3)"/>
<rect x="280.5" y="19" width="1" height="662" fill="rgba(255,255,255,0.3)"/>
<rect x="19" y="280" width="663" height="1" fill="rgba(255,255,255,0.3)"/>
<rect x="359" y="19" width="1" height="662" fill="rgba(255,255,255,0.5)"/>
<rect x="19" y="358.5" width="663" height="1" fill="rgba(255,255,255,0.5)"/>
<rect x="427.5" y="19" width="1" height="662" fill="rgba(255,255,255,0.5)"/>
<rect x="19" y="426.5" width="663" height="1" fill="rgba(255,255,255,0.5)"/>
<rect x="492" y="19" width="1" height="662" fill="rgba(255,255,255,0.2)"/>
<rect x="19" y="491.5" width="663" height="1" fill="rgba(255,255,255,0.2)"/>
<rect x="534" y="19" width="1" height="662" fill="rgba(255,255,255,0.1)"/>
<rect x="19" y="533.5" width="663" height="1" fill="rgba(255,255,255,0.1)"/>
<rect x="595" y="19" width="1" height="662" fill="rgba(255,255,255,0.3)"/>
<rect x="19" y="594" width="663" height="1" fill="rgba(255,255,255,0.3)"/>
<rect x="629.5" y="19" width="1" height="662" fill="rgba(255,255,255,0.3)"/>
<rect x="19" y="628.5" width="663" height="1" fill="rgba(255,255,255,0.3)"/>
<rect x="662" y="19" width="1" height="662" fill="rgba(255,255,255,0.2)"/>
<rect x="19" y="661" width="663" height="1" fill="rgba(255,255,255,0.2)"/>
<rect x="408.3" y="19" width="2.7" height="662" fill="#fbe8e8"/>
<rect x="518" y="19" width="3" height="662" fill="#ffe2e2"/>
<rect x="331.5" y="19" width="2.5" height="662" fill="#ffdede"/>
<rect x="19" y="407.5" width="663" height="2" fill="#f6eded"/>
<rect x="19" y="516.8" width="663" height="3.2" fill="#ffe2e2"/>
<rect x="19" y="330.6" width="663" height="2.4" fill="#ffdede"/>
<rect x="21" y="21" width="62" height="62" fill="#ff0000"/>
<rect x="86" y="86" width="55" height="55" fill="#ff0000"/>
<rect x="86" y="118" width="14" height="23" fill="url(#tll)"/>
<rect x="118" y="86" width="23" height="14" fill="url(#tur)"/>
<rect x="144" y="144" width="25" height="24" fill="#ff0000"/>
<rect x="174" y="144" width="49" height="24" fill="url(#tx1)"/>
<rect x="144" y="173" width="25" height="49" fill="url(#tx2)"/>
<rect x="174" y="173" width="49" height="49" fill="#ff0000"/>
<rect x="226" y="226" width="54" height="53" fill="#ff0000"/>
<rect x="283" y="283" width="45" height="43" fill="#ff0000"/>
<rect x="331" y="283" width="27" height="43" fill="url(#tx3)"/>
<rect x="283" y="330" width="45" height="28" fill="url(#tx4)"/>
<rect x="331" y="330" width="27" height="28" fill="#ff0000"/>
<rect x="361" y="361" width="44" height="43" fill="#ff0000"/>
<rect x="408" y="361" width="18" height="43" fill="url(#tur)"/>
<rect x="361" y="407" width="44" height="18" fill="url(#tx5)"/>
<rect x="408" y="407" width="18" height="18" fill="#ff0000"/>
<rect x="430" y="429" width="33" height="32" fill="#ff0000"/>
<rect x="481" y="429" width="10" height="32" fill="#ff0000"/>
<rect x="430" y="480" width="33" height="11" fill="url(#tx6)"/>
<rect x="480" y="479.5" width="11" height="11.5" fill="#ff0000"/>
<rect x="494" y="493" width="40" height="40" fill="#ff0000"/>
<rect x="536" y="535" width="30" height="30" fill="#ff0000"/>
<rect x="582" y="535" width="12" height="30" fill="#ff0000"/>
<rect x="536" y="581" width="30" height="12" fill="#ff0000"/>
<rect x="581" y="581" width="13" height="12" fill="#ff0000"/>
<rect x="597" y="596" width="31" height="31" fill="#ff0000"/>
<rect x="632" y="631" width="22" height="21" fill="#ff0000"/>
<rect x="668" y="667" width="12" height="12" fill="#ff0000"/>
<rect x="47.3" y="19" width="4" height="662" fill="#ffffff"/>
<rect x="100" y="19" width="3" height="662" fill="#ffffff"/>
<rect x="168" y="19" width="6" height="662" fill="#fafafa"/>
<rect x="245" y="19" width="4" height="662" fill="#ffffff"/>
<rect x="327" y="19" width="4.5" height="662" fill="#ffffff"/>
<rect x="404.5" y="19" width="3.8" height="662" fill="#ffffff"/>
<rect x="462" y="19" width="8.5" height="662" fill="#fafafa"/>
<rect x="470.5" y="19" width="1.5" height="662" fill="#fbe6e6"/>
<rect x="472" y="19" width="9" height="662" fill="#fdfdfd"/>
<rect x="515.4" y="19" width="2.6" height="662" fill="#ffffff"/>
<rect x="566" y="19" width="15.5" height="662" fill="#fafafa"/>
<rect x="614.3" y="19" width="2.9" height="662" fill="#ffffff"/>
<rect x="655" y="19" width="13.5" height="662" fill="#f8f8f8"/>
<rect x="19" y="46.5" width="663" height="4.1" fill="#ffffff"/>
<rect x="19" y="98.5" width="663" height="3.3" fill="#ffffff"/>
<rect x="19" y="167" width="663" height="6" fill="#fafafa"/>
<rect x="19" y="244" width="663" height="4" fill="#ffffff"/>
<rect x="19" y="325.8" width="663" height="4.8" fill="#ffffff"/>
<rect x="19" y="403.2" width="663" height="4.3" fill="#ffffff"/>
<rect x="19" y="460.5" width="663" height="9" fill="#fafafa"/>
<rect x="19" y="469.5" width="663" height="1.5" fill="#fbe6e6"/>
<rect x="19" y="471" width="663" height="8" fill="#fdfdfd"/>
<rect x="19" y="514" width="663" height="2.8" fill="#ffffff"/>
<rect x="19" y="565.3" width="663" height="15.4" fill="#fafafa"/>
<rect x="19" y="612.8" width="663" height="3.4" fill="#fdf6f6"/>
<rect x="19" y="653.8" width="663" height="13.7" fill="#f8f8f8"/>
<rect x="19" y="19" width="1" height="662" fill="#cfcfcf"/>
<polygon points="461.5,429 462.5,429 464,460.5 461.5,460.5" fill="#ff0000"/>
<polygon points="430,460 461.5,460 463.5,462 430,461.2" fill="#ff0000"/>
<polygon points="565.5,535 566.5,535 568,565 565.5,565" fill="#ff0000"/>
<rect x="597" y="596" width="31" height="31" fill="#ff0000"/>
<rect x="613.8" y="596" width="1.4" height="31" fill="#ffb8b8"/>
<rect x="597" y="612.8" width="31" height="2" fill="#ffb0b0"/>
<rect x="597" y="615.3" width="31" height="1.7" fill="#ff7070"/>
<rect x="629" y="279" width="1" height="47" fill="rgba(230,0,0,0.35)"/>
<rect x="629" y="331" width="1" height="26" fill="rgba(230,0,0,0.85)"/>
<rect x="480" y="479.5" width="11" height="11.5" fill="#ff0000"/>
<line x1="475" y1="474.5" x2="481" y2="480.5" stroke="#ff3030" stroke-width="1.6" stroke-opacity="0.8"/>
<rect x="374.5" y="19" width="0.8" height="181" fill="rgba(255,0,0,0.18)"/>
<rect x="427.5" y="82" width="1.5" height="16" fill="rgba(255,0,0,0.8)"/>
<rect x="84" y="426.5" width="15" height="1.5" fill="rgba(255,0,0,0.8)"/>
<rect x="493" y="469.8" width="42" height="1.2" fill="rgba(255,0,0,0.7)"/>
<rect x="535" y="469.8" width="25" height="1.2" fill="rgba(255,0,0,0.3)"/>
<rect x="595" y="46.5" width="16" height="1.3" fill="rgba(220,0,0,0.8)"/>
<rect x="630" y="141" width="24" height="1.3" fill="rgba(220,0,0,0.8)"/>
<rect x="46.5" y="594" width="1.3" height="17" fill="rgba(220,0,0,0.8)"/>
<rect x="142.5" y="628" width="1.3" height="24" fill="rgba(220,0,0,0.8)"/>
<rect x="281" y="628" width="77" height="1.3" fill="rgba(220,0,0,0.6)"/>
<rect x="362" y="329.2" width="38" height="1.1" fill="rgba(255,0,0,0.45)"/>
<rect x="407.8" y="427" width="1.1" height="33" fill="rgba(235,0,0,0.8)"/>
<rect x="428" y="406.6" width="34" height="1" fill="rgba(235,0,0,0.6)"/>
<rect x="20" y="20" width="28.5" height="28.3" fill="none" stroke="#00ff00" stroke-width="2"/>
<rect x="49" y="48.4" width="35" height="35.6" fill="none" stroke="#00ff00" stroke-width="2"/>
<rect x="85" y="85" width="11.6" height="10.8" fill="none" stroke="#00ff00" stroke-width="2"/>
<rect x="97.6" y="97.6" width="2.5" height="2.5" fill="none" stroke="#00ff00" stroke-width="1.2"/>
<rect x="101" y="100.6" width="23.3" height="23.3" fill="none" stroke="#00ff00" stroke-width="2"/>
<rect x="126.3" y="125.9" width="15.7" height="16.1" fill="none" stroke="#00ff00" stroke-width="2"/>
<rect x="143" y="143" width="6" height="5.7" fill="none" stroke="#00ff00" stroke-width="2"/>
<rect x="151" y="150.3" width="17.3" height="17.7" fill="none" stroke="#00ff00" stroke-width="2"/>
<rect x="169.4" y="169" width="5" height="4.8" fill="none" stroke="#00ff00" stroke-width="2"/>
<rect x="176" y="175.8" width="49" height="48.2" fill="none" stroke="#00ff00" stroke-width="2"/>
<rect x="282" y="282" width="48.4" height="48" fill="none" stroke="#00ff00" stroke-width="2"/>
<rect x="332.4" y="331.3" width="26.6" height="27.2" fill="none" stroke="#00ff00" stroke-width="2"/>
<rect x="360" y="360" width="48.3" height="48" fill="none" stroke="#00ff00" stroke-width="2"/>
<rect x="410" y="408.1" width="18" height="18.9" fill="none" stroke="#00ff00" stroke-width="2"/>
<rect x="429" y="428" width="41.7" height="40.6" fill="none" stroke="#00ff00" stroke-width="2"/>
<rect x="471.2" y="470.3" width="15.3" height="15.1" fill="none" stroke="#00ff00" stroke-width="2"/>
<rect x="488" y="487" width="3" height="3" fill="none" stroke="#00ff00" stroke-width="2"/>
<rect x="493" y="492.5" width="28" height="27.5" fill="none" stroke="#00ff00" stroke-width="2"/>
<rect x="521" y="520" width="13.5" height="14" fill="none" stroke="#00ff00" stroke-width="2"/>
<rect x="535" y="534" width="5" height="5" fill="none" stroke="#00ff00" stroke-width="2"/>
<rect x="540.5" y="539.5" width="22.7" height="22.5" fill="none" stroke="#00ff00" stroke-width="2"/>
<rect x="564" y="563.2" width="10.4" height="10" fill="none" stroke="#00ff00" stroke-width="2"/>
<rect x="576.4" y="575.4" width="19.1" height="18.6" fill="none" stroke="#00ff00" stroke-width="2"/>
<rect x="596" y="595" width="25" height="25" fill="none" stroke="#00ff00" stroke-width="2"/>
<rect x="623" y="622" width="6" height="6" fill="none" stroke="#00ff00" stroke-width="2"/>
<rect x="631" y="630" width="23.5" height="23" fill="none" stroke="#00ff00" stroke-width="2"/>
<rect x="655.5" y="654" width="6.5" height="7" fill="none" stroke="#00ff00" stroke-width="2"/>
<rect x="663" y="662" width="10" height="9.6" fill="none" stroke="#00ff00" stroke-width="2"/>
<rect x="673" y="671.5" width="9" height="8.5" fill="none" stroke="#00ff00" stroke-width="2"/>
<rect x="20" y="20" width="64" height="64" fill="none" stroke="#0000ff" stroke-width="2"/>
<rect x="85" y="85" width="57" height="57" fill="none" stroke="#0000ff" stroke-width="2"/>
<rect x="143" y="143" width="80.5" height="80" fill="none" stroke="#0000ff" stroke-width="2"/>
<rect x="225" y="225" width="55.5" height="55" fill="none" stroke="#0000ff" stroke-width="2"/>
<rect x="282" y="281.5" width="77" height="77" fill="none" stroke="#0000ff" stroke-width="2"/>
<rect x="360" y="360" width="67" height="66" fill="none" stroke="#0000ff" stroke-width="2"/>
<rect x="429" y="428" width="63.5" height="63.5" fill="none" stroke="#0000ff" stroke-width="2"/>
<rect x="493" y="492.5" width="41.5" height="41.5" fill="none" stroke="#0000ff" stroke-width="2"/>
<rect x="535" y="534" width="60.5" height="60" fill="none" stroke="#0000ff" stroke-width="2"/>
<rect x="596" y="595" width="33" height="33" fill="none" stroke="#0000ff" stroke-width="2"/>
<rect x="631" y="630" width="31" height="31" fill="none" stroke="#0000ff" stroke-width="2"/>
<rect x="663" y="662" width="19" height="18" fill="none" stroke="#0000ff" stroke-width="2"/>
<text x="89.7" y="54.9" class="lab">Chr04</text>
<text x="150.0" y="116.5" class="lab">Chr07</text>
<text x="233.1" y="189.6" class="lab">Chr01</text>
<text x="287.2" y="256.3" class="lab">Chr08</text>
<text x="367.9" y="322.2" class="lab">Chr02</text>
<text x="436.4" y="397.0" class="lab">Chr03</text>
<text x="498.1" y="464.3" class="lab">Chr05</text>
<text x="543.1" y="516.1" class="lab">Chr09</text>
<text x="600.9" y="569.1" class="lab">Chr06</text>
<text x="634.8" y="616.0" class="lab">Chr10</text>
<text x="591.4" y="652.0" class="lab">Chr11</text>
<text x="622.5" y="677.1" class="lab">ChrX</text>
<rect x="19.25" y="11" width="1.5" height="7" fill="#2020ff"/>
<text transform="translate(20.00,6.9) scale(1,1.2)" class="ax">0 MB</text>
<rect x="73.33" y="11" width="1.5" height="7" fill="#2020ff"/>
<rect x="127.41" y="11" width="1.5" height="7" fill="#2020ff"/>
<text transform="translate(128.16,6.9) scale(1,1.2)" class="ax" text-anchor="middle">100 MB</text>
<rect x="181.49" y="11" width="1.5" height="7" fill="#2020ff"/>
<rect x="235.57" y="11" width="1.5" height="7" fill="#2020ff"/>
<text transform="translate(236.32,6.9) scale(1,1.2)" class="ax" text-anchor="middle">200 MB</text>
<rect x="289.65" y="11" width="1.5" height="7" fill="#2020ff"/>
<rect x="343.73" y="11" width="1.5" height="7" fill="#2020ff"/>
<text transform="translate(344.48,6.9) scale(1,1.2)" class="ax" text-anchor="middle">300 MB</text>
<rect x="397.81" y="11" width="1.5" height="7" fill="#2020ff"/>
<rect x="451.89" y="11" width="1.5" height="7" fill="#2020ff"/>
<text transform="translate(452.64,6.9) scale(1,1.2)" class="ax" text-anchor="middle">400 MB</text>
<rect x="505.97" y="11" width="1.5" height="7" fill="#2020ff"/>
<rect x="560.05" y="11" width="1.5" height="7" fill="#2020ff"/>
<text transform="translate(560.80,6.9) scale(1,1.2)" class="ax" text-anchor="middle">500 MB</text>
<rect x="614.13" y="11" width="1.5" height="7" fill="#2020ff"/>
<rect x="668.21" y="11" width="1.5" height="7" fill="#2020ff"/>
<text transform="translate(668.96,6.9) scale(1,1.2)" class="ax" text-anchor="middle">600 MB</text>
<rect x="11" y="18.70" width="7" height="1.4" fill="#3a9a3a"/>
<text transform="translate(7,20.00) rotate(-90) scale(1,1.25)" class="ay" text-anchor="end">0 MB</text>
<rect x="11" y="72.70" width="7" height="1.4" fill="#3a9a3a"/>
<rect x="11" y="126.70" width="7" height="1.4" fill="#3a9a3a"/>
<text transform="translate(7,126.80) rotate(-90) scale(1,1.25)" class="ay" text-anchor="middle">100 MB</text>
<rect x="11" y="180.70" width="7" height="1.4" fill="#3a9a3a"/>
<rect x="11" y="234.70" width="7" height="1.4" fill="#3a9a3a"/>
<text transform="translate(7,234.80) rotate(-90) scale(1,1.25)" class="ay" text-anchor="middle">200 MB</text>
<rect x="11" y="288.70" width="7" height="1.4" fill="#3a9a3a"/>
<rect x="11" y="342.70" width="7" height="1.4" fill="#3a9a3a"/>
<text transform="translate(7,342.80) rotate(-90) scale(1,1.25)" class="ay" text-anchor="middle">300 MB</text>
<rect x="11" y="396.70" width="7" height="1.4" fill="#3a9a3a"/>
<rect x="11" y="450.70" width="7" height="1.4" fill="#3a9a3a"/>
<text transform="translate(7,450.80) rotate(-90) scale(1,1.25)" class="ay" text-anchor="middle">400 MB</text>
<rect x="11" y="504.70" width="7" height="1.4" fill="#3a9a3a"/>
<rect x="11" y="558.70" width="7" height="1.4" fill="#3a9a3a"/>
<text transform="translate(7,558.80) rotate(-90) scale(1,1.25)" class="ay" text-anchor="middle">500 MB</text>
<rect x="11" y="612.70" width="7" height="1.4" fill="#3a9a3a"/>
<rect x="11" y="666.70" width="7" height="1.4" fill="#3a9a3a"/>
<text transform="translate(7,666.80) rotate(-90) scale(1,1.25)" class="ay" text-anchor="middle">600 MB</text>
</svg>
</body></html>
